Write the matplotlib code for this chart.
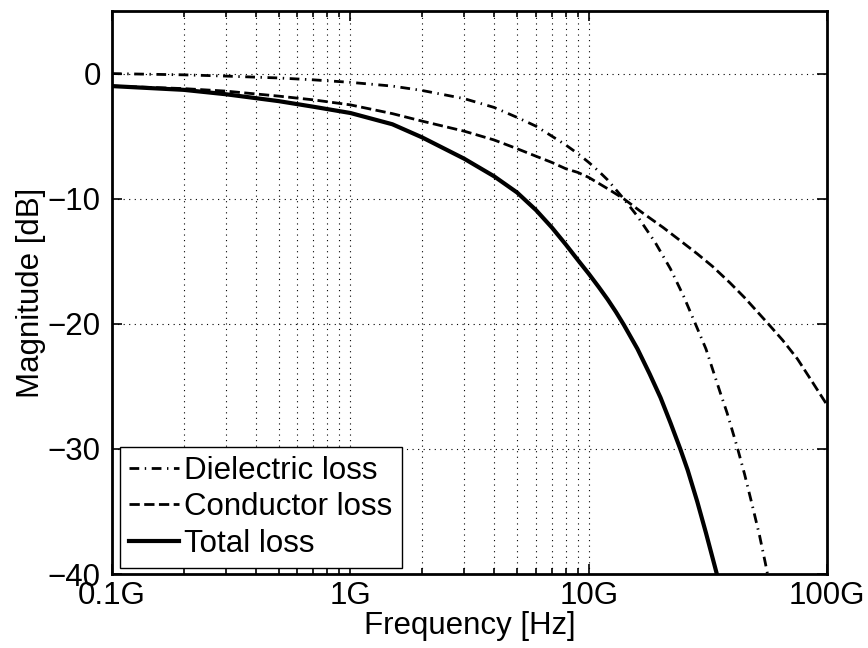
import matplotlib
matplotlib.use('Agg')
import matplotlib.pyplot as plt
from matplotlib.ticker import FixedLocator, NullFormatter

plt.rcParams['font.family'] = ['Liberation Sans', 'DejaVu Sans']
plt.rcParams['font.size'] = 22.5

# Data (frequency in GHz, magnitude in dB)
f_diel = [0.1, 0.2, 0.3, 0.5, 0.7, 1, 1.5, 2, 3, 4, 5, 6, 7, 8, 9, 10,
          11, 12, 14, 16, 19, 22, 25, 28, 31, 35.6, 38, 42, 45, 48.5, 52,
          55, 57]
db_diel = [0.0, -0.1, -0.2, -0.35, -0.5, -0.7, -1.0, -1.35, -2.0, -2.7, -3.5,
           -4.2, -5.0, -5.7, -6.4, -7.1, -7.8, -8.5, -10.0, -11.4, -13.5,
           -15.6, -17.8, -20.0, -22.0, -25.5, -27.1, -29.9, -32.0, -34.5,
           -36.9, -39.1, -40.6]

f_cond = [0.1, 0.2, 0.3, 0.5, 0.7, 1, 1.5, 2, 3, 4, 5, 6, 7, 8, 9, 10,
          12, 14, 17, 20.5, 24, 28.5, 33, 39, 45, 56.6, 65, 75, 85, 100]
db_cond = [-1.0, -1.2, -1.4, -1.8, -2.1, -2.5, -3.2, -3.8, -4.6, -5.3, -6.0,
           -6.6, -7.1, -7.6, -7.9, -8.3, -9.2, -10.0, -11.2, -12.3, -13.3,
           -14.4, -15.4, -16.7, -17.9, -20.0, -21.3, -22.8, -24.4, -26.5]

f_tot = [0.1, 0.2, 0.3, 0.5, 0.7, 1, 1.5, 2, 3, 4, 5, 6, 7, 8, 9, 10,
         11, 12, 13, 14, 16, 18, 20, 22, 24.2, 26, 28.5, 31, 33.8, 35]
db_tot = [-1.0, -1.3, -1.65, -2.2, -2.65, -3.15, -4.05, -5.1, -6.8, -8.2, -9.5,
          -10.9, -12.3, -13.65, -14.9, -16.0, -17.05, -18.05, -19.05, -20.05,
          -22.0, -24.0, -25.9, -27.9, -30.0, -31.7, -34.2, -36.7, -39.4,
          -40.5]

xticks = [1e8, 1e9, 1e10, 1e11]
xticklabels = ['0.1G', '1G', '10G', '100G']
yticks = [0, -10, -20, -30, -40]

fig = plt.figure(figsize=(8.68, 6.48), dpi=100)
ax = fig.add_axes([0.129, 0.114, 0.824, 0.869])

ax.plot([f * 1e9 for f in f_diel], db_diel, 'k', linestyle=(0, (3.5, 2, 0.5, 2)),
        linewidth=2, label='Dielectric loss')
ax.plot([f * 1e9 for f in f_cond], db_cond, 'k--', linewidth=2,
        label='Conductor loss')
ax.plot([f * 1e9 for f in f_tot], db_tot, 'k-', linewidth=3, label='Total loss')

ax.set_xscale('log')
ax.set_xlim(1e8, 1e11)
ax.set_ylim(-40, 5)

ax.set_xticks(xticks)
ax.set_xticklabels(xticklabels)
ax.set_yticks(yticks)
minors = [m * 1e8 for m in range(2, 10)] + [m * 1e9 for m in range(2, 10)]
ax.xaxis.set_minor_locator(FixedLocator(minors))
ax.xaxis.set_minor_formatter(NullFormatter())

ax.tick_params(which='both', direction='in', top=True, right=True, width=1.2)
ax.tick_params(which='major', length=7, pad=5)
ax.tick_params(which='minor', length=4)
ax.tick_params(axis='y', pad=8)

ax.grid(which='major', color='k', linestyle=(0, (1, 4)), linewidth=0.8)
ax.grid(which='minor', axis='x', color='k', linestyle=(0, (1, 4)), linewidth=0.8)

for sp in ax.spines.values():
    sp.set_linewidth(2)

ax.set_xlabel('Frequency [Hz]', labelpad=0)
ax.set_ylabel('Magnitude [dB]', labelpad=1)

leg = ax.legend(loc='lower left', bbox_to_anchor=(0.011, 0.011), borderaxespad=0,
                fancybox=False, framealpha=1, edgecolor='k', handlelength=1.6,
                handletextpad=0.16, labelspacing=0.2, borderpad=0.3)
leg.get_frame().set_linewidth(1)

fig.savefig('out.png', dpi=100)
